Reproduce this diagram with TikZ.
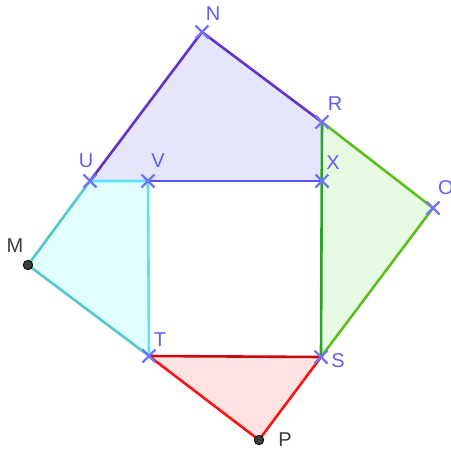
\documentclass[tikz,border=0pt]{standalone}
\usepackage{fontspec}
\setmainfont{Liberation Sans}
\usepackage{xcolor}
\usepackage{tikz}
\usetikzlibrary{positioning,calc}

\definecolor{ptblue}{RGB}{115,115,250}
\definecolor{lblblue}{RGB}{95,95,235}
\definecolor{lblgray}{RGB}{60,60,60}
\definecolor{purpleln}{RGB}{100,50,200}
\definecolor{blueln}{RGB}{85,85,235}
\definecolor{greenln}{RGB}{95,190,30}
\definecolor{greendk}{RGB}{40,165,40}
\definecolor{cyanln}{RGB}{90,230,240}
\definecolor{tealln}{RGB}{85,200,200}
\definecolor{redln}{RGB}{250,20,20}
\definecolor{reddk}{RGB}{200,10,10}
\definecolor{lavfill}{RGB}{229,229,252}
\definecolor{grnfill}{RGB}{230,251,225}
\definecolor{cyafill}{RGB}{225,253,253}
\definecolor{redfill}{RGB}{255,227,227}

\tikzset{
  side/.style={line width=2.6pt,line cap=round},
  cross/.style={ptblue,line width=2.3pt},
  lbl/.style={font=\fontsize{20}{20}\selectfont,inner sep=0pt,text=lblblue},
  lblfree/.style={lbl,text=lblgray},
  dot/.style={circle,fill=lblgray,draw=black,line width=0.8pt,inner sep=0pt,minimum size=9.5pt}
}
\newcommand{\xmark}[1]{%
  \draw[cross] ($(#1)+(-6.5,-6.5)$) -- ($(#1)+(6.5,6.5)$)
               ($(#1)+(-6.5,6.5)$) -- ($(#1)+(6.5,-6.5)$);}

\begin{document}
\begin{tikzpicture}[x=1pt,y=-1pt]
  \useasboundingbox (0,0) rectangle (451,450);
  % points
  \coordinate (N) at (202,32);
  \coordinate (R) at (322,122);
  \coordinate (X) at (322,181);
  \coordinate (U) at (90,181);
  \coordinate (V) at (148,181);
  \coordinate (O) at (433,208);
  \coordinate (M) at (28,265);
  \coordinate (T) at (149,356);
  \coordinate (S) at (321,357);
  \coordinate (P) at (259,440);
  % fills
  \fill[lavfill] (U) -- (N) -- (R) -- (X) -- cycle;
  \fill[grnfill] (R) -- (O) -- (S) -- cycle;
  \fill[cyafill] (U) -- (V) -- (T) -- (M) -- cycle;
  \fill[redfill] (T) -- (S) -- (P) -- cycle;
  % sides
  \draw[side,purpleln] (U) -- (N) -- (R);
  \draw[side,blueln] (V) -- (X);
  \draw[side,greenln] (R) -- (O) -- (S);
  \draw[side,greendk] (R) -- (S);
  \draw[side,cyanln] (U) -- (V) -- (T);
  \draw[side,tealln] (T) -- (M) -- (U);
  \draw[side,redln] (S) -- (P) -- (T);
  \draw[side,reddk] (T) -- (S);
  % markers
  \foreach \p in {N,R,X,U,V,O,T,S} {\xmark{\p}}
  \node[dot] (Md) at (M) {};
  \node[dot] (Pd) at (P) {};
  % labels
  \node[lbl] (lN) at (213,14) {N};
  \node[lbl] (lR) at (335,104) {R};
  \node[lbl] (lX) at (333,163) {X};
  \node[lbl] (lU) at (86,161) {U};
  \node[lbl] (lV) at (158,161) {V};
  \node[lbl,anchor=west] (lO) at (438,188) {O};
  \node[lblfree] (lM) at (15,246) {M};
  \node[lbl] (lT) at (160,340) {T};
  \node[lbl] (lS) at (338,361) {S};
  \node[lblfree] (lP) at (285,440) {P};
\end{tikzpicture}
\end{document}
